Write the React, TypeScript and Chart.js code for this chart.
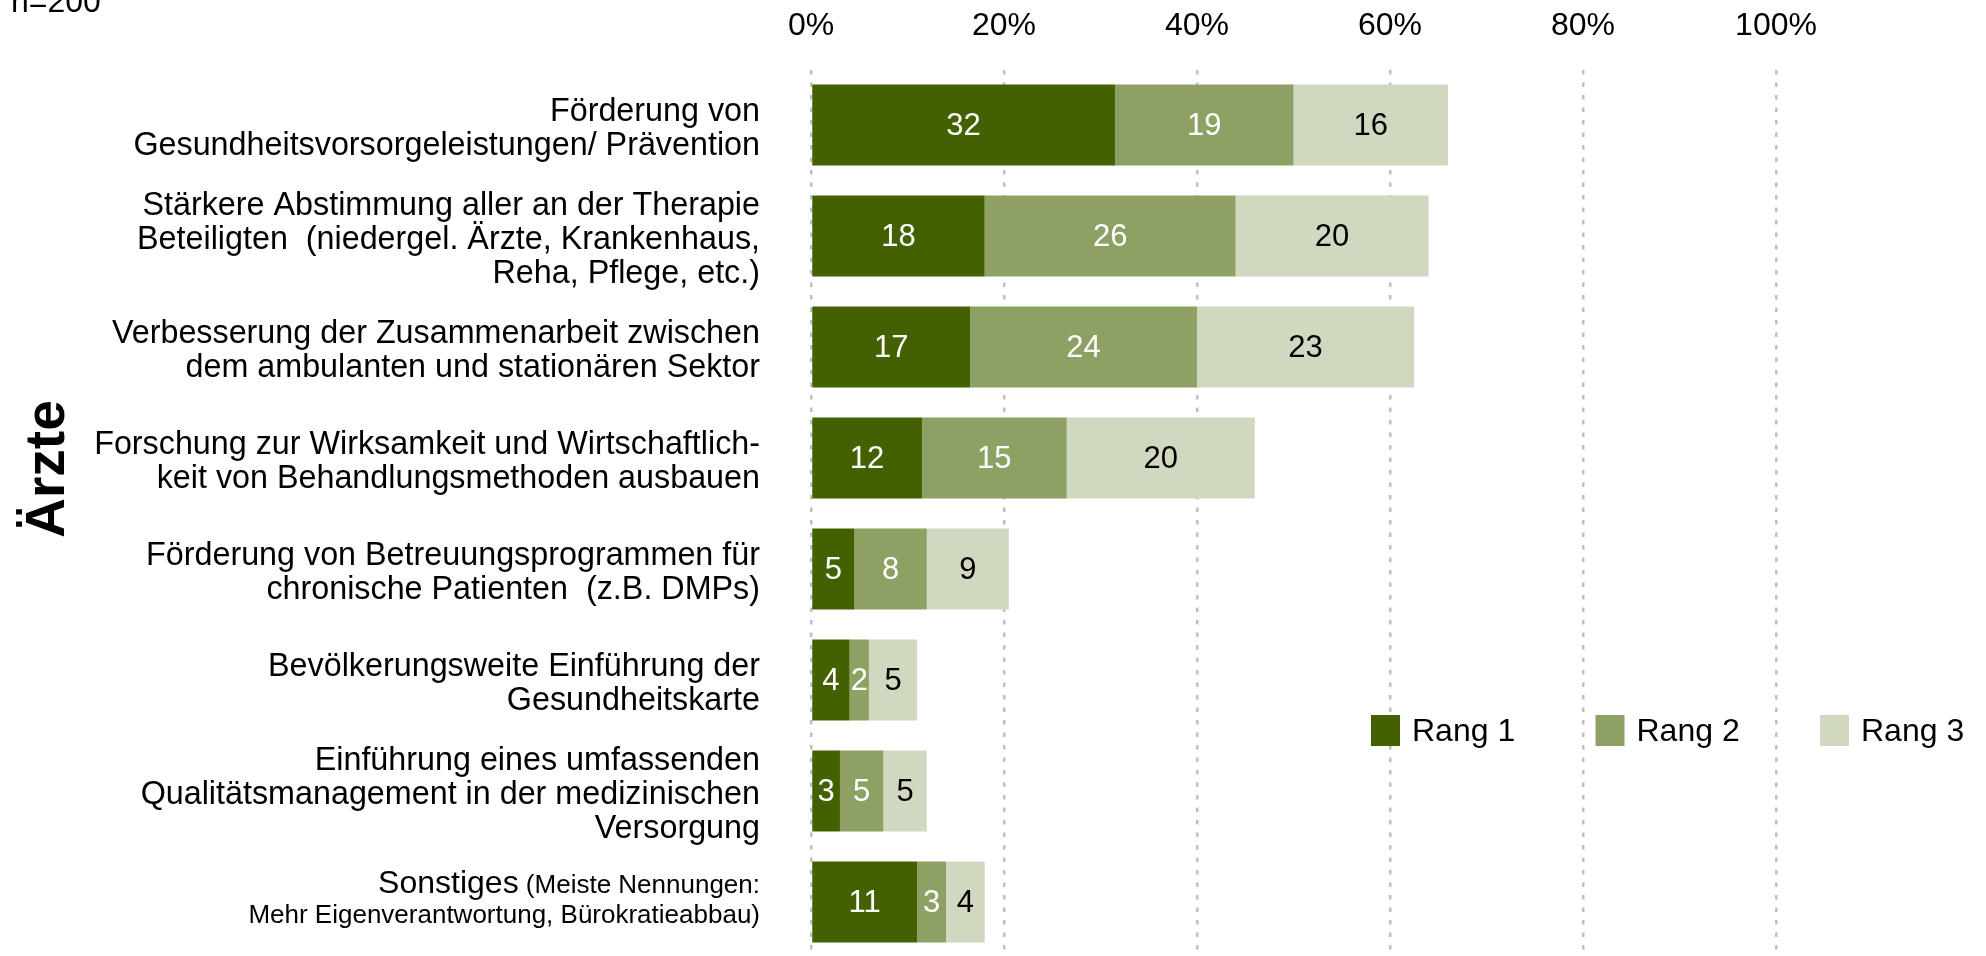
import React, { useEffect, useRef } from 'react';
import { Chart, registerables } from 'chart.js';

Chart.register(...registerables);

const FONT = '"Liberation Sans", Arial, Helvetica, sans-serif';

const categories: string[][] = [
  ['Förderung von', 'Gesundheitsvorsorgeleistungen/ Prävention'],
  ['Stärkere Abstimmung aller an der Therapie', 'Beteiligten  (niedergel. Ärzte, Krankenhaus,', 'Reha, Pflege, etc.)'],
  ['Verbesserung der Zusammenarbeit zwischen', 'dem ambulanten und stationären Sektor'],
  ['Forschung zur Wirksamkeit und Wirtschaftlich-', 'keit von Behandlungsmethoden ausbauen'],
  ['Förderung von Betreuungsprogrammen für', 'chronische Patienten  (z.B. DMPs)'],
  ['Bevölkerungsweite Einführung der', 'Gesundheitskarte'],
  ['Einführung eines umfassenden', 'Qualitätsmanagement in der medizinischen', 'Versorgung'],
  ['Sonstiges (Meiste Nennungen:', 'Mehr Eigenverantwortung, Bürokratieabbau)'],
];

// last category label is drawn with mixed font sizes
const otherIndex = 7;
const otherMain = 'Sonstiges';
const otherNote1 = '(Meiste Nennungen:';
const otherNote2 = 'Mehr Eigenverantwortung, Bürokratieabbau)';

const seriesNames = ['Rang 1', 'Rang 2', 'Rang 3'];
const rang1 = [31.5, 18, 16.5, 11.5, 4.5, 4, 3, 11];
const rang2 = [18.5, 26, 23.5, 15, 7.5, 2, 4.5, 3];
const rang3 = [16, 20, 22.5, 19.5, 8.5, 5, 4.5, 4];

const xMin = 0;
const xMax = 100;
const xStep = 20;

const sampleNote = 'n=200';
const groupTitle = 'Ärzte';

const colors = ['#436100', '#8ea164', '#d0d8bf'];
const valueColors = ['#ffffff', '#ffffff', '#000000'];

const LABEL_GAP = 51;

const decorPlugin = {
  id: 'decor',
  afterDatasetsDraw(chart: any) {
    const ctx = chart.ctx;
    chart.data.datasets.forEach((ds: any, di: number) => {
      const meta = chart.getDatasetMeta(di);
      meta.data.forEach((el: any, i: number) => {
        const v = ds.data[i];
        const p = el.getCenterPoint();
        ctx.save();
        ctx.font = `31px ${FONT}`;
        ctx.fillStyle = valueColors[di];
        ctx.textAlign = 'center';
        ctx.textBaseline = 'middle';
        ctx.fillText(String(Math.round(v)), p.x, p.y + 1);
        ctx.restore();
      });
    });
  },
  afterDraw(chart: any) {
    const ctx = chart.ctx;
    ctx.save();
    // sample size note
    ctx.font = `32px ${FONT}`;
    ctx.fillStyle = '#000';
    ctx.textAlign = 'left';
    ctx.textBaseline = 'alphabetic';
    ctx.fillText(sampleNote, 11, 12);

    // group title
    ctx.save();
    ctx.font = `bold 55px ${FONT}`;
    ctx.translate(64, 469);
    ctx.rotate(-Math.PI / 2);
    ctx.textAlign = 'center';
    ctx.fillText(groupTitle, 0, 0);
    ctx.restore();

    // mixed-size label for "Sonstiges"
    const yScale = chart.scales.y;
    const yc = yScale.getPixelForTick(otherIndex);
    const rightX = yScale.right - LABEL_GAP;
    ctx.textAlign = 'right';
    ctx.textBaseline = 'alphabetic';
    ctx.font = `26px ${FONT}`;
    const w = ctx.measureText(' ' + otherNote1).width;
    ctx.fillText(otherNote1, rightX, yc - 9);
    ctx.fillText(otherNote2, rightX, yc + 21);
    ctx.font = `32px ${FONT}`;
    ctx.fillText(otherMain, rightX - w, yc - 9);

    // legend
    chart.data.datasets.forEach((ds: any, i: number) => {
      const bx = 1371 + i * 224.5;
      ctx.fillStyle = ds.backgroundColor;
      ctx.fillRect(bx, 715, 29, 31);
      ctx.fillStyle = '#000';
      ctx.textAlign = 'left';
      ctx.textBaseline = 'middle';
      ctx.font = `32px ${FONT}`;
      ctx.fillText(ds.label, bx + 41, 732);
    });
    ctx.restore();
  },
};

export default function App() {
  const canvasRef = useRef<HTMLCanvasElement | null>(null);

  useEffect(() => {
    if (!canvasRef.current) return;
    Chart.defaults.font.family = FONT;
    const data = [rang1, rang2, rang3];
    const chart = new Chart(canvasRef.current, {
      type: 'bar',
      data: {
        labels: categories,
        datasets: seriesNames.map((name, i) => ({
          label: name,
          data: data[i],
          backgroundColor: colors[i],
          borderWidth: 0,
          barPercentage: 0.73,
          categoryPercentage: 1,
        })),
      },
      options: {
        indexAxis: 'y',
        animation: false,
        responsive: true,
        maintainAspectRatio: false,
        layout: { padding: { left: 0, top: 0, right: 210, bottom: 0.5 } },
        scales: {
          x: {
            position: 'top',
            stacked: true,
            min: xMin,
            max: xMax,
            ticks: {
              stepSize: xStep,
              padding: 24,
              color: '#000',
              font: { size: 32, family: FONT },
              callback: (v: any) => v + '%',
            },
            grid: {
              color: '#bfbfbf',
              lineWidth: 2.5,
              drawTicks: false,
            },
            border: { display: false, dash: [4.5, 8] },
            afterFit: (scale: any) => {
              scale.height = 69.5;
              scale.paddingLeft = 0;
              scale.paddingRight = 0;
            },
          },
          y: {
            stacked: true,
            ticks: {
              padding: LABEL_GAP,
              labelOffset: 4,
              color: '#000',
              font: { size: 32.3, family: FONT, lineHeight: 34 / 32.3 },
              autoSkip: false,
              callback: function (this: any, v: any, i: number) {
                if (i === otherIndex) return '';
                return this.getLabelForValue(v);
              },
            },
            grid: { display: false, drawTicks: false },
            border: { display: false },
            afterFit: (scale: any) => {
              scale.width = 811;
              scale.paddingTop = 0;
              scale.paddingBottom = 0;
            },
          },
        },
        plugins: {
          legend: { display: false },
          tooltip: { enabled: false },
        },
      },
      plugins: [decorPlugin],
    } as any);
    return () => chart.destroy();
  }, []);

  return (
    <div style={{ position: 'fixed', left: 0, top: 0, width: 1986, height: 958, background: '#fff' }}>
      <canvas ref={canvasRef} />
    </div>
  );
}
